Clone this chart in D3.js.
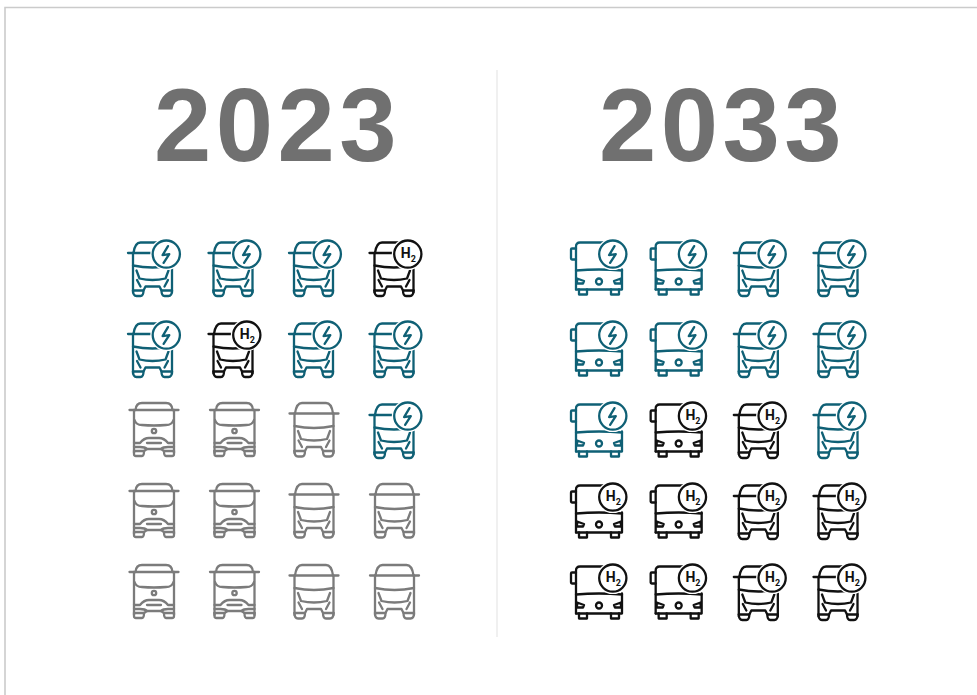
<!DOCTYPE html>
<html>
<head>
<meta charset="utf-8">
<script src="https://cdn.jsdelivr.net/npm/d3@7"></script>
<style>
  html, body { margin: 0; padding: 0; background: #fff; }
  svg { display: block; }
</style>
</head>
<body>
<svg id="chart" width="977" height="695"></svg>
<script>
const years = ['2023', '2033']
const columns = [0, 1, 2, 3]
const rows = [0, 1, 2, 3, 4]

// body shape of each cell: c = coach, t = truck, b = bus
const bodies2023 = [
  ['t', 't', 't', 't'],
  ['t', 't', 't', 't'],
  ['c', 'c', 't', 't'],
  ['c', 'c', 't', 't'],
  ['c', 'c', 't', 't'],
]
const bodies2033 = [
  ['b', 'b', 't', 't'],
  ['b', 'b', 't', 't'],
  ['b', 'b', 't', 't'],
  ['b', 'b', 't', 't'],
  ['b', 'b', 't', 't'],
]

// drivetrain of each cell: E = battery electric, H = hydrogen, D = diesel
const fuels2023 = [
  ['E', 'E', 'E', 'H'],
  ['E', 'H', 'E', 'E'],
  ['D', 'D', 'D', 'E'],
  ['D', 'D', 'D', 'D'],
  ['D', 'D', 'D', 'D'],
]
const fuels2033 = [
  ['E', 'E', 'E', 'E'],
  ['E', 'E', 'E', 'E'],
  ['E', 'H', 'H', 'E'],
  ['H', 'H', 'H', 'H'],
  ['H', 'H', 'H', 'H'],
]

const bodiesByYear = { 2023: bodies2023, 2033: bodies2033 }
const fuelsByYear = { 2023: fuels2023, 2033: fuels2033 }

const fuelColor = d3.scaleOrdinal()
    .domain(['E', 'H', 'D'])
    .range(['#0f6075', '#111111', '#7b7b7b'])

const columnScales = {
  2023: d3.scalePoint().domain(columns).range([152.5, 394]),
  2033: d3.scalePoint().domain(columns).range([599, 838]),
}
const rowScale = d3.scalePoint().domain(rows).range([242.5, 566.5])

const titleX = d3.scalePoint().domain(years).range([277.5, 722.5])

// icon glyphs, origin at the top middle of the vehicle
const glyphs = {
  t: [
    'M-24.5,10.5H24.5',
    'M-19,10.5C-18,3 -16,0 -12,0H12C16,0 18,3 19,10.5',
    'M-19.5,10.5V50M19.5,10.5V50',
    'M-19.5,23Q0,27 19.5,23',
    'M-16,28L-13,36Q0,39 13,36L16,28',
    'M-15.5,37.5L-12,44M15.5,37.5L12,44',
    'M-19.5,48Q-19.5,53.5 -16,53.5H-12Q-9,53.5 -9,48L-7,44H7L9,48Q9,53.5 12,53.5H16Q19.5,53.5 19.5,48',
    'M-19.5,48H-9M9,48H19.5',
  ],
  c: [
    'M-24.5,7H24.5',
    'M-18.5,7Q-18,0 -12,0H12Q18,0 18.5,7',
    'M-20,7V50M20,7V50',
    'M-19.5,17Q-18,22 -12,22Q0,23 12,22Q18,22 19.5,17',
    'M-20,40H-14Q-10,35 -5,35H5Q10,35 14,40H20',
    'M-7,40H7',
    'M-20,44H-14Q-9,44 -7,46H7Q9,44 14,44H20',
    'M-20,48H-10L-7,46M20,48H10L7,46',
    'M-20,48V51Q-20,53 -18,53H-12Q-10,53 -10,48M20,48V51Q20,53 18,53H12Q10,53 10,48',
  ],
  b: [
    'M-23,47V4Q-23,0 -19,0H4',
    'M-23,6H-27Q-28,6 -28,7V16Q-28,17 -27,17H-23',
    'M23,27V47H-23',
    'M-23,28Q0,26 23,28',
    'M-22,36L-15,38.5L-16,41H-22Z',
    'M22,36L15,38.5L16,41H22Z',
    'M-20,47V52H-12V47M12,47V52H20V47',
  ],
}

// small per-shape corrections to line the drawn glyph up with its column and row
const bodyShift = {
  t: { x: 0, y: 0 },
  c: { x: 1.5, y: 0 },
  b: { x: 0, y: 0 },
}

const boltPath = 'M1.7,-8L-3.7,1L3,0L-2.7,8.7'

const svg = d3.select('#chart')

// page frame
svg.append('path')
    .attr('d', 'M5,695V7.5H977')
    .attr('fill', 'none')
    .attr('stroke', '#cbcbcb')
    .attr('stroke-width', 1.6)

// divider
svg.append('line')
    .attr('x1', 497)
    .attr('x2', 497)
    .attr('y1', 70)
    .attr('y2', 637)
    .attr('stroke', '#e6e6e6')
    .attr('stroke-width', 1.2)

svg.selectAll('text.year')
  .data(years)
  .join('text')
    .attr('class', 'year')
    .attr('x', d => titleX(d))
    .attr('y', 161)
    .attr('text-anchor', 'middle')
    .attr('font-family', '"Liberation Sans", Arial, sans-serif')
    .attr('font-weight', 700)
    .attr('font-size', 103)
    .attr('letter-spacing', 4.5)
    .attr('fill', '#707070')
    .text(d => d)

function cells(year) {
  return rows.flatMap(row => columns.map(column => ({
    year,
    row,
    column,
    body: bodiesByYear[year][row][column],
    fuel: fuelsByYear[year][row][column],
  })))
}

const icon = svg.selectAll('g.icon')
  .data(years.flatMap(cells))
  .join('g')
    .attr('class', 'icon')
    .attr('transform', d => {
      const shift = bodyShift[d.body]
      // the diesel art sits a little higher than the badged art
      const lift = d.fuel === 'D' ? -1.5 : 0
      const nudge = d.fuel === 'D' && d.body === 't' ? 0.5 : 0
      return `translate(${columnScales[d.year](d.column) + shift.x + nudge},${rowScale(d.row) + shift.y + lift})`
    })
    .attr('fill', 'none')
    .attr('stroke', d => fuelColor(d.fuel))
    .attr('stroke-width', 2.3)
    .attr('stroke-linecap', 'round')
    .attr('stroke-linejoin', 'round')

icon.selectAll('path.body')
  .data(d => glyphs[d.body])
  .join('path')
    .attr('class', 'body')
    .attr('d', d => d)

// centre lamp on the coach and the bus
const lamp = icon.filter(d => d.body !== 't')
lamp.append('circle')
    .attr('cx', 0)
    .attr('cy', d => d.body === 'c' ? 28 : 39)
    .attr('r', d => d.body === 'c' ? 2.2 : 3)

// badge
const badge = icon.filter(d => d.fuel !== 'D')
    .append('g')
    .attr('transform', 'translate(13.8,11.6)')

badge.append('circle')
    .attr('r', 16)
    .attr('fill', '#fff')
    .attr('stroke', 'none')

badge.append('circle')
    .attr('r', 13.6)

badge.filter(d => d.fuel === 'E')
  .append('path')
    .attr('d', boltPath)

const h2 = badge.filter(d => d.fuel === 'H')
  .append('text')
    .attr('text-anchor', 'middle')
    .attr('x', 0.5)
    .attr('y', 3.8)
    .attr('stroke', 'none')
    .attr('fill', d => fuelColor(d.fuel))
    .attr('font-family', 'Roboto, "Liberation Sans", sans-serif')
    .attr('font-weight', 700)
    .attr('font-size', 14)

h2.append('tspan').text('H')
h2.append('tspan')
    .attr('dy', 4)
    .attr('font-size', 9)
    .text('2')
</script>
</body>
</html>
